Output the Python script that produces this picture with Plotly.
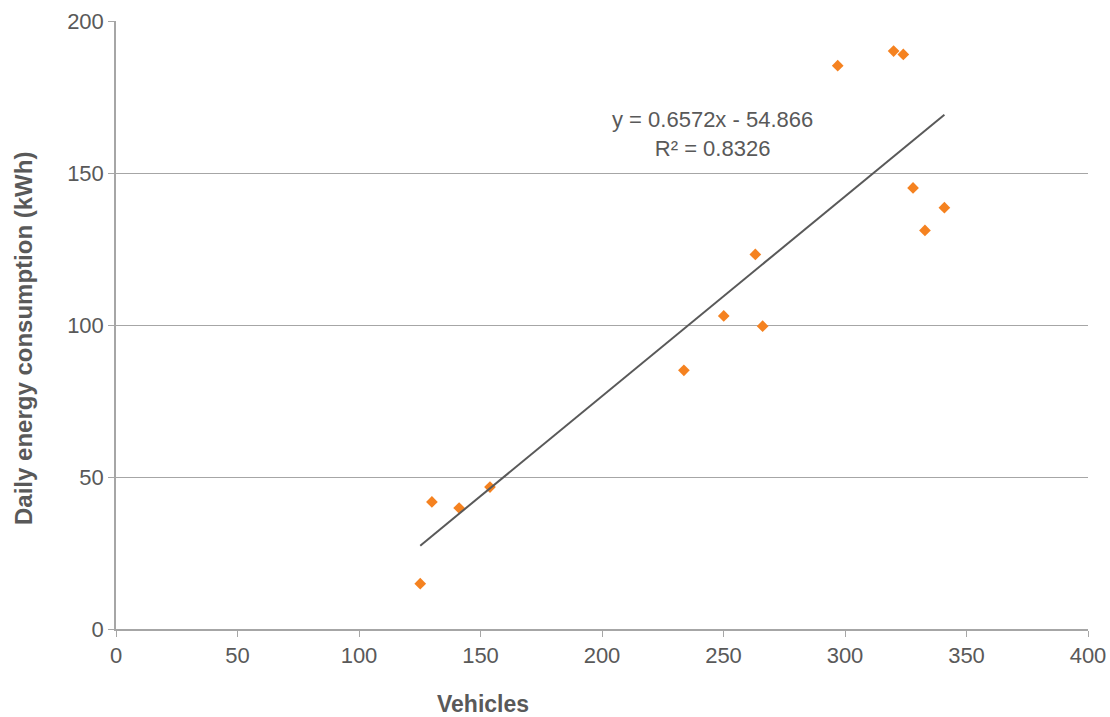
import plotly.graph_objects as go
import numpy as np

vehicles = [125.2, 130.0, 141.2, 153.9, 233.7, 250.1, 263.1, 266.1, 297.0, 320.0, 324.0, 328.0, 332.9, 340.9]
energy = [14.9, 41.8, 39.8, 46.7, 85.1, 103.0, 123.2, 99.6, 185.3, 190.1, 189.0, 145.1, 131.1, 138.6]
slope = 0.6572
intercept = -54.866
x_ticks = [0, 50, 100, 150, 200, 250, 300, 350, 400]
y_ticks = [0, 50, 100, 150, 200]

grey = "#595959"
font = "Liberation Sans, Arial, sans-serif"
W, H = 1110, 717
L, R, T, B = 116, 22, 21, 88
pw, ph = W - L - R, H - T - B

tx = np.array([min(vehicles), max(vehicles)])
ty = slope * tx + intercept

fig = go.Figure()
fig.add_trace(go.Scatter(x=vehicles, y=energy, mode="markers",
                         marker=dict(symbol="diamond", size=9, color="#F58220"),
                         showlegend=False, hoverinfo="x+y"))
fig.add_trace(go.Scatter(x=tx, y=ty, mode="lines",
                         line=dict(color="#595959", width=2),
                         showlegend=False, hoverinfo="skip"))

fig.update_layout(
    width=W, height=H, autosize=False,
    margin=dict(l=L, r=R, t=T, b=B, pad=0, autoexpand=False),
    plot_bgcolor="white", paper_bgcolor="white",
    font=dict(family=font, size=22, color=grey),
    xaxis=dict(range=[0, 400], tickvals=x_ticks, showgrid=False, zeroline=False,
               showline=True, linecolor="#A6A6A6", linewidth=1.5,
               ticks="outside", ticklen=6, tickcolor="#A6A6A6",
               tickfont=dict(size=22, color=grey)),
    yaxis=dict(range=[0, 200], tickvals=y_ticks, showgrid=True, gridcolor="#A6A6A6",
               gridwidth=1.2, zeroline=False,
               showline=True, linecolor="#A6A6A6", linewidth=1.5,
               ticks="outside", ticklen=6, tickcolor="#A6A6A6",
               tickfont=dict(size=22, color=grey)),
    annotations=[
        dict(text="y = 0.6572x - 54.866<br>R² = 0.8326",
             x=(712 - L) / pw, y=(H - B - 134) / ph,
             xref="paper", yref="paper", showarrow=False, align="center",
             xanchor="center", yanchor="middle",
             font=dict(size=22, color=grey)),
        dict(text="<b>Vehicles</b>", x=(483 - L) / pw, y=(H - B - 719) / ph,
             xref="paper", yref="paper", xanchor="center", yanchor="bottom",
             showarrow=False, font=dict(size=23, color=grey)),
        dict(text="<b>Daily energy consumption (kWh)</b>",
             x=(23 - L) / pw, y=(H - B - 339) / ph,
             xref="paper", yref="paper", textangle=-90, showarrow=False,
             xanchor="center", yanchor="middle",
             font=dict(size=24, color=grey)),
    ],
)

fig.write_html("out.html",
               config={"responsive": False, "displayModeBar": False},
               post_script="document.body.style.margin='0';document.body.style.overflow='hidden';")
